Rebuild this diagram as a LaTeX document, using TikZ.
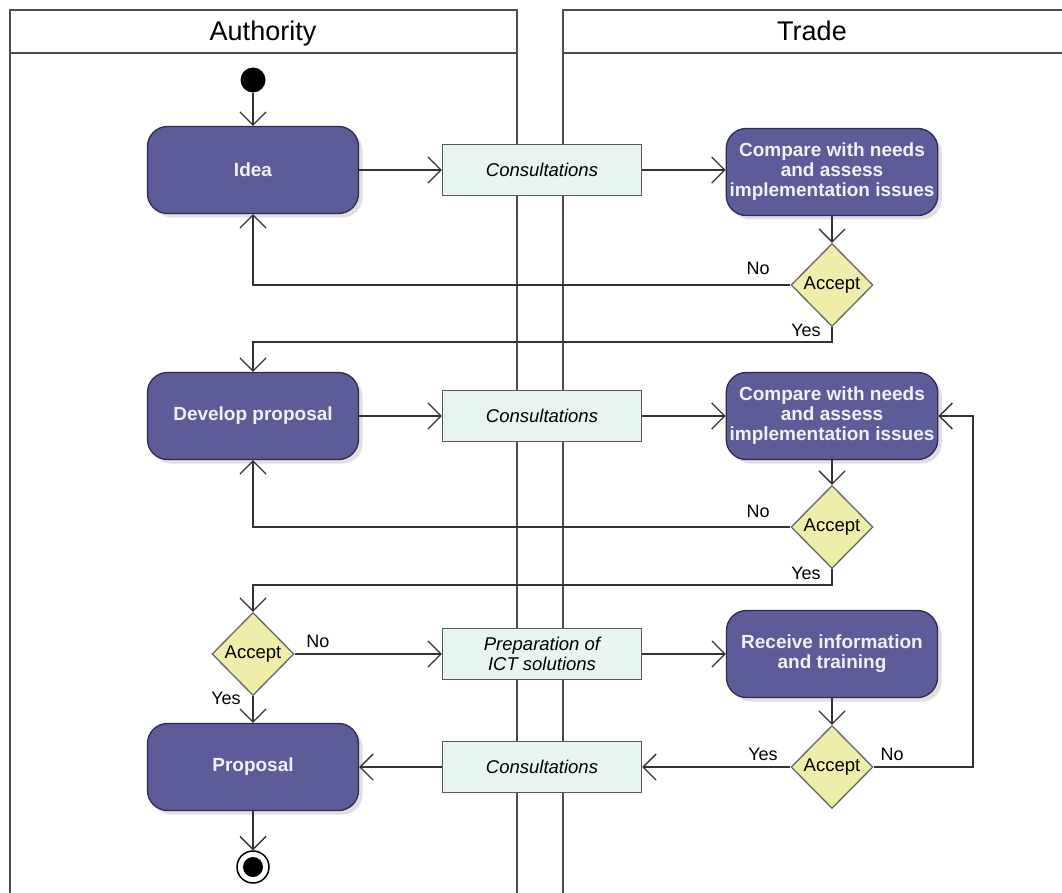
\documentclass[tikz,border=0pt]{standalone}
\usepackage{fontspec}
\setmainfont{Liberation Sans}
\usetikzlibrary{arrows.meta}
\usetikzlibrary{shapes.geometric}
\usetikzlibrary{shadows}
\definecolor{actfill}{HTML}{5E5C98}
\definecolor{actborder}{HTML}{2C2B55}
\definecolor{acttext}{HTML}{F0F0F6}
\definecolor{objfill}{HTML}{E8F4F2}
\definecolor{decfill}{HTML}{F0ECAA}
\tikzset {
  % swimlane borders and titles
  lane line/.style = {
    draw = black!70,
    line width = 1.5pt
  },
  lane title/.style = {
    anchor = base,
    font = \fontsize{27}{30}\selectfont
  },
  % control flow with an open arrow head
  flow/.style = {
    draw = black!80,
    line width = 1.3pt,
    -{Straight Barb[length=13pt,width=26pt]}
  },
  % label on a branch
  guard/.style = {
    font = \fontsize{18}{20}\selectfont
  }
}
\tikzset {
  % action state
  activity/.style = {
    draw = actborder,
    fill = actfill,
    line width = 1.3pt,
    rounded corners = 20pt,
    minimum width = 211pt,
    minimum height = 87pt,
    align = center,
    text = acttext,
    font = \bfseries\fontsize{19}{20}\selectfont,
    drop shadow = {shadow xshift=4pt, shadow yshift=-4pt, opacity=0.25}
  },
  % object flow box
  object/.style = {
    draw = black!65,
    fill = objfill,
    line width = 1.3pt,
    minimum width = 199pt,
    minimum height = 51pt,
    align = center,
    font = \itshape\fontsize{18.5}{20}\selectfont
  },
  % decision
  decision/.style = {
    diamond,
    draw = black!60,
    fill = decfill,
    line width = 1.3pt,
    minimum width = 82pt,
    minimum height = 83pt,
    inner sep = 0,
    font = \fontsize{18.5}{20}\selectfont
  },
  % initial and final state
  start/.style = {
    circle,
    fill = black,
    minimum size = 25pt,
    inner sep = 0
  },
  stop/.style = {
    circle,
    draw = black,
    fill = white,
    line width = 1.5pt,
    minimum size = 32pt,
    inner sep = 0,
    path picture = {
      \fill[black] (path picture bounding box.center) circle (10pt);
    }
  }
}

\begin{document}
\begin{tikzpicture}[x=1pt, y=-1pt]
    \useasboundingbox (0, 0) rectangle (1062, 893);

    \draw[lane line] (10, 893) -- (10, 10) -- (517, 10) -- (517, 893);
    \draw[lane line] (10, 53) -- (517, 53);
    \draw[lane line] (563, 893) -- (563, 10) -- (1062, 10);
    \draw[lane line] (563, 53) -- (1062, 53);
    \node[lane title] at (263, 41) (authority) {Authority};
    \node[lane title] at (812, 41) (trade) {Trade};

    \node[start] at (253, 80) (init) {};
    \node[activity] at (253, 170) (idea) {Idea};
    \node[object] at (542, 170) (consult1) {Consultations};
    \node[activity] at (832, 172) (compare1) {Compare with needs\\and assess\\implementation issues};
    \node[decision] at (832, 285) (accept1) {Accept};
    \coordinate (accept1-yes) at (832, 342);

    \node[activity] at (253, 416) (develop) {Develop proposal};
    \node[object] at (542, 416) (consult2) {Consultations};
    \node[activity] at (832, 416) (compare2) {Compare with needs\\and assess\\implementation issues};
    \node[decision] at (832, 527) (accept2) {Accept};
    \coordinate (accept2-yes) at (832, 585);

    \node[decision] at (253, 654) (accept3) {Accept};
    \node[object] at (542, 654) (prep) {Preparation of\\ICT solutions};
    \node[activity] at (832, 654) (receive) {Receive information\\and training};
    \node[decision] at (832, 767) (accept4) {Accept};
    \coordinate (accept4-no) at (973, 767);
    \node[object] at (542, 767) (consult3) {Consultations};
    \node[activity] at (253, 767) (proposal) {Proposal};
    \node[stop] at (253, 867) (final) {};

    \node[guard] at (758, 268) (no1) {No};
    \node[guard] at (806, 330) (yes1) {Yes};
    \node[guard] at (758, 511) (no2) {No};
    \node[guard] at (806, 573) (yes2) {Yes};
    \node[guard] at (318, 641) (no3) {No};
    \node[guard] at (226, 698) (yes3) {Yes};
    \node[guard] at (763, 754) (yes4) {Yes};
    \node[guard] at (892, 754) (no4) {No};

    \draw[flow] (init) -- (idea);
    \draw[flow] (idea.east) -- (consult1.west);
    \draw[flow] (consult1.east) -- (compare1.west |- consult1.east);
    \draw[flow] (compare1) -- (accept1);
    \draw[flow] (accept1.west)
    -| (idea.south);
    \draw[flow] (accept1.south)
    -- (accept1-yes)
    -| (develop.north);

    \draw[flow] (develop.east) -- (consult2.west);
    \draw[flow] (consult2.east) -- (compare2.west);
    \draw[flow] (compare2) -- (accept2);
    \draw[flow] (accept2.west)
    -| (develop.south);
    \draw[flow] (accept2.south)
    -- (accept2-yes)
    -| (accept3.north);

    \draw[flow] (accept3.east) -- (prep.west);
    \draw[flow] (prep.east) -- (receive.west);
    \draw[flow] (receive) -- (accept4);
    \draw[flow] (accept4.east)
    -- (accept4-no)
    |- (compare2.east);
    \draw[flow] (accept4.west) -- (consult3.east);
    \draw[flow] (consult3.west) -- (proposal.east);
    \draw[flow] (accept3.south) -- (proposal.north);
    \draw[flow] (proposal) -- (final);
  \end{tikzpicture}
\end{document}
